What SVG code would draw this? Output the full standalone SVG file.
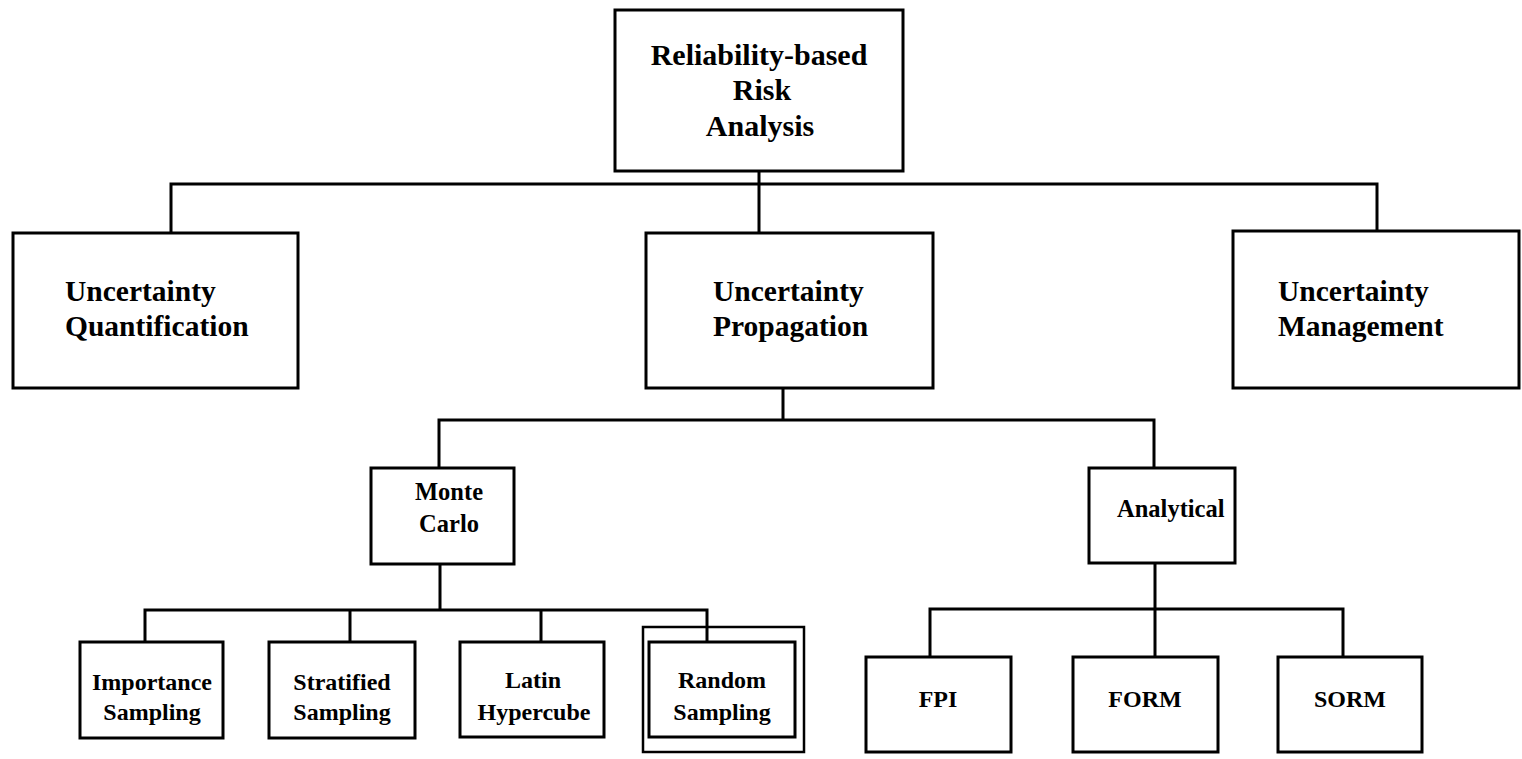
<svg xmlns="http://www.w3.org/2000/svg" width="1522" height="759" viewBox="0 0 1522 759">
<style>
.box{fill:#fff;stroke:#000;stroke-width:3}
.outer{fill:none;stroke:#000;stroke-width:2.5}
.con{fill:none;stroke:#000;stroke-width:3}
text{font-family:"Liberation Serif","Times New Roman",serif;font-weight:bold;fill:#000}
.t1{font-size:30px}
.t2{font-size:29.5px}
.t3{font-size:24.5px}
.t4{font-size:24px}
.mid{text-anchor:middle}
</style>
<rect width="1522" height="759" fill="#fff"/>
<g id="connectors">
<path class="con" d="M759 171 V233 M171 233 V184 H1377 V231"/>
<path class="con" d="M783 388 V420 M439 468 V420 H1154 V468"/>
<path class="con" d="M440 564 V610 M145 642 V610 H707 V642 M350 610 V642 M541 610 V642"/>
<path class="con" d="M1155 563 V657 M930 657 V609 H1343 V657"/>
</g>
<g id="root">
<rect class="box" x="615" y="10" width="288" height="161"/>
<text class="t1 mid" x="759" y="65">Reliability-based</text>
<text class="t1 mid" x="762" y="100">Risk</text>
<text class="t1 mid" x="760" y="136">Analysis</text>
</g>
<g id="quantification">
<rect class="box" x="13" y="233" width="285" height="155"/>
<text class="t2" x="65" y="301">Uncertainty</text>
<text class="t2" x="65" y="336">Quantification</text>
</g>
<g id="propagation">
<rect class="box" x="646" y="233" width="287" height="155"/>
<text class="t2" x="713" y="301">Uncertainty</text>
<text class="t2" x="713" y="336">Propagation</text>
</g>
<g id="management">
<rect class="box" x="1233" y="231" width="286" height="157"/>
<text class="t2" x="1278" y="301">Uncertainty</text>
<text class="t2" x="1278" y="336">Management</text>
</g>
<g id="montecarlo">
<rect class="box" x="371" y="468" width="143" height="96"/>
<text class="t3 mid" x="449" y="500">Monte</text>
<text class="t3 mid" x="449" y="532">Carlo</text>
</g>
<g id="analytical">
<rect class="box" x="1089" y="468" width="146" height="95"/>
<text class="t3" x="1117" y="517">Analytical</text>
</g>
<g id="importance">
<rect class="box" x="80" y="642" width="143" height="96"/>
<text class="t4 mid" x="152" y="690">Importance</text>
<text class="t4 mid" x="152" y="720">Sampling</text>
</g>
<g id="stratified">
<rect class="box" x="269" y="642" width="146" height="96"/>
<text class="t4 mid" x="342" y="690">Stratified</text>
<text class="t4 mid" x="342" y="720">Sampling</text>
</g>
<g id="latin">
<rect class="box" x="460" y="642" width="144" height="95"/>
<text class="t4 mid" x="533" y="688">Latin</text>
<text class="t4 mid" x="534" y="720">Hypercube</text>
</g>
<g id="random">
<rect class="outer" x="643" y="627" width="161" height="125"/>
<rect class="box" x="649" y="642" width="146" height="95"/>
<text class="t4 mid" x="722" y="688">Random</text>
<text class="t4 mid" x="722" y="720">Sampling</text>
</g>
<g id="fpi">
<rect class="box" x="866" y="657" width="145" height="95"/>
<text class="t4 mid" x="938" y="707">FPI</text>
</g>
<g id="form">
<rect class="box" x="1073" y="657" width="145" height="95"/>
<text class="t4 mid" x="1145" y="707">FORM</text>
</g>
<g id="sorm">
<rect class="box" x="1278" y="657" width="144" height="95"/>
<text class="t4 mid" x="1350" y="707">SORM</text>
</g>
</svg>
